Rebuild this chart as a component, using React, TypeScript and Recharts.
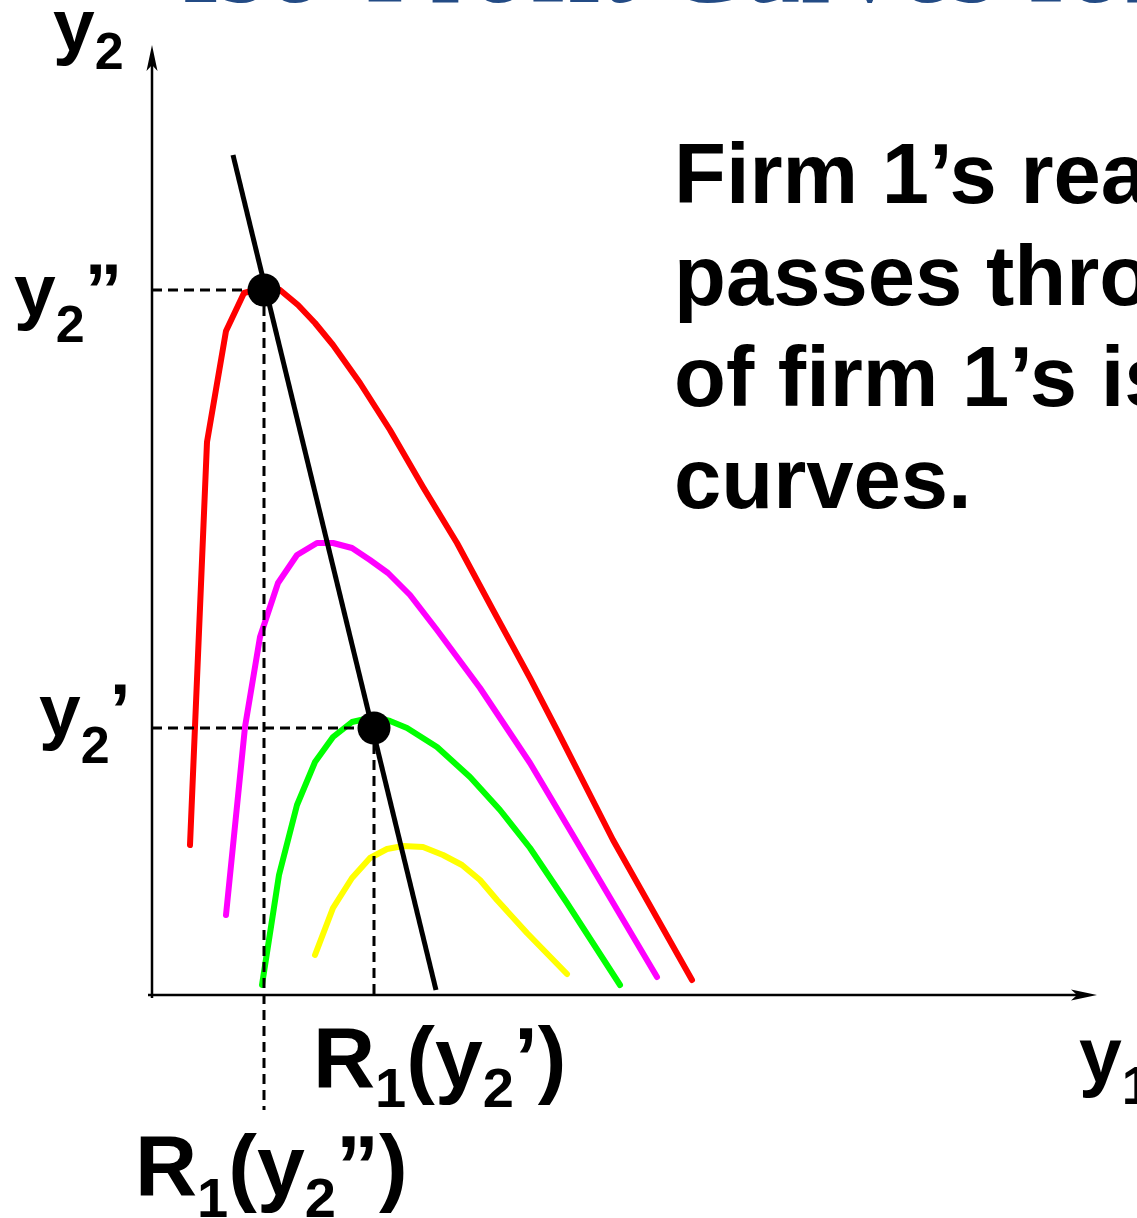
import React from 'react';
import { ComposedChart, Line, XAxis, YAxis, ReferenceLine, ReferenceDot } from 'recharts';

// iso-profit curves of firm 1, highest profit level first (x = y1, y = y2)
const redCurve = [
  { x: 0.38, y: 1.5 }, { x: 0.55, y: 5.53 }, { x: 0.74, y: 6.64 }, { x: 0.92, y: 7.02 },
  { x: 1.13, y: 7.08 }, { x: 1.28, y: 7.05 }, { x: 1.46, y: 6.9 }, { x: 1.63, y: 6.72 },
  { x: 1.81, y: 6.5 }, { x: 2.08, y: 6.12 }, { x: 2.38, y: 5.65 }, { x: 2.71, y: 5.08 },
  { x: 3.05, y: 4.52 }, { x: 3.41, y: 3.85 }, { x: 3.78, y: 3.17 }, { x: 4.05, y: 2.65 },
  { x: 4.61, y: 1.55 }, { x: 5.4, y: 0.15 },
];
const magentaCurve = [
  { x: 0.74, y: 0.8 }, { x: 0.93, y: 2.68 }, { x: 1.08, y: 3.58 }, { x: 1.26, y: 4.12 },
  { x: 1.45, y: 4.4 }, { x: 1.65, y: 4.52 }, { x: 1.81, y: 4.52 }, { x: 2.0, y: 4.47 },
  { x: 2.18, y: 4.35 }, { x: 2.36, y: 4.22 }, { x: 2.58, y: 4.0 }, { x: 2.85, y: 3.65 },
  { x: 3.28, y: 3.07 }, { x: 3.78, y: 2.32 }, { x: 4.28, y: 1.48 }, { x: 5.05, y: 0.18 },
];
const greenCurve = [
  { x: 1.1, y: 0.1 }, { x: 1.27, y: 1.2 }, { x: 1.45, y: 1.9 }, { x: 1.63, y: 2.33 },
  { x: 1.81, y: 2.58 }, { x: 2.0, y: 2.73 }, { x: 2.22, y: 2.78 }, { x: 2.38, y: 2.74 },
  { x: 2.55, y: 2.67 }, { x: 2.85, y: 2.48 }, { x: 3.18, y: 2.18 }, { x: 3.48, y: 1.85 },
  { x: 3.78, y: 1.47 }, { x: 4.15, y: 0.92 }, { x: 4.68, y: 0.1 },
];
const yellowCurve = [
  { x: 1.63, y: 0.4 }, { x: 1.81, y: 0.87 }, { x: 2.0, y: 1.17 }, { x: 2.18, y: 1.37 },
  { x: 2.35, y: 1.46 }, { x: 2.51, y: 1.49 }, { x: 2.71, y: 1.48 }, { x: 2.91, y: 1.4 },
  { x: 3.1, y: 1.3 }, { x: 3.28, y: 1.15 }, { x: 3.45, y: 0.95 }, { x: 3.75, y: 0.62 },
  { x: 4.15, y: 0.21 },
];
// firm 1's reaction curve R1(y2)
const reactionLine = [{ x: 0.81, y: 8.4 }, { x: 2.84, y: 0.05 }];

// the two levels of y2 and the matching best responses
const y2Levels = [7.05, 2.67];
const r1Values = [1.12, 2.22];
const dashFloor = [-1.15, 0];

const X_MAX = 9.45;
const Y_MAX = 9.5;

const W = 1137;
const H = 1218;
const FONT = '"Liberation Sans", Arial, sans-serif';

const curves = [
  { key: 'red', data: redCurve, color: '#ff0000' },
  { key: 'magenta', data: magentaCurve, color: '#ff00ff' },
  { key: 'green', data: greenCurve, color: '#00ff00' },
  { key: 'yellow', data: yellowCurve, color: '#ffff00' },
];

const textLines = ['Firm 1’s reaction curve', 'passes through the “tops”', 'of firm 1’s iso-profit', 'curves.'];

const arrowUp = (p: any) => {
  const { cx, cy } = p;
  return <path d={`M${cx},${cy} L${cx - 5.5},${cy + 26} L${cx},${cy + 20} L${cx + 5.5},${cy + 26} Z`} fill="#000" />;
};
const arrowRight = (p: any) => {
  const { cx, cy } = p;
  return <path d={`M${cx},${cy} L${cx - 26},${cy - 5.5} L${cx - 20},${cy} L${cx - 26},${cy + 5.5} Z`} fill="#000" />;
};

function Labels() {
  const bold = { fontFamily: FONT, fontWeight: 700 as const, fill: '#000' };
  return (
    <svg width={W} height={H} style={{ position: 'absolute', left: 0, top: 0, pointerEvents: 'none' }}>
      <text x={181} y={2} fontFamily='"Liberation Serif", "Times New Roman", serif' fontSize={118} fill="#234b85">
        Iso-Profit Curves for Firm 1
      </text>
      <text x={53} y={51} fontSize={75} {...bold}>
        y<tspan dy={18} fontSize={52}>2</tspan>
      </text>
      <text x={14} y={316} fontSize={75} {...bold}>
        y<tspan dy={26} fontSize={52}>2</tspan><tspan dy={-26} fontSize={75}>”</tspan>
      </text>
      <text x={39} y={736} fontSize={75} {...bold}>
        y<tspan dy={27} fontSize={52}>2</tspan><tspan dy={-27} fontSize={75}>’</tspan>
      </text>
      <text x={313} y={1087} fontSize={86} {...bold}>
        R<tspan dy={20} fontSize={56}>1</tspan><tspan dy={-20}>(y</tspan>
        <tspan dy={20} fontSize={56}>2</tspan><tspan dy={-20}>’)</tspan>
      </text>
      <text x={135} y={1195} fontSize={86} {...bold}>
        R<tspan dy={22} fontSize={56}>1</tspan><tspan dy={-22}>(y</tspan>
        <tspan dy={22} fontSize={56}>2</tspan><tspan dy={-22}>”)</tspan>
      </text>
      <text x={1079} y={1082} fontSize={77} {...bold}>
        y<tspan dy={22} fontSize={54}>1</tspan>
      </text>
      {textLines.map((t, i) => (
        <text key={i} x={674} y={203 + i * 101.7} fontSize={85} {...bold}>
          {t}
        </text>
      ))}
    </svg>
  );
}

export default function App() {
  return (
    <div style={{ position: 'absolute', left: 0, top: 0, width: W, height: H, overflow: 'hidden', background: '#fff' }}>
      <ComposedChart width={W} height={H} margin={{ top: 0, right: 0, bottom: 0, left: 0 }}>
        <XAxis type="number" dataKey="x" domain={[-1.52, 9.85]} allowDataOverflow hide />
        <YAxis type="number" dataKey="y" domain={[-2.23, 9.95]} allowDataOverflow hide />

        {/* axes */}
        <ReferenceLine segment={[{ x: 0, y: -0.03 }, { x: 0, y: Y_MAX - 0.1 }]} stroke="#000" strokeWidth={2.5} ifOverflow="visible" />
        <ReferenceLine segment={[{ x: -0.04, y: 0 }, { x: X_MAX - 0.1, y: 0 }]} stroke="#000" strokeWidth={2.5} ifOverflow="visible" />
        <ReferenceDot x={0} y={Y_MAX} shape={arrowUp} ifOverflow="visible" />
        <ReferenceDot x={X_MAX} y={0} shape={arrowRight} ifOverflow="visible" />

        {curves.map((c) => (
          <Line
            key={c.key}
            data={c.data}
            dataKey="y"
            type="linear"
            stroke={c.color}
            strokeWidth={6}
            strokeLinecap="round"
            strokeLinejoin="round"
            dot={false}
            activeDot={false}
            isAnimationActive={false}
          />
        ))}

        {/* dashed guides from the equilibrium points to the axes */}
        {y2Levels.map((lvl, i) => (
          <Line
            key={`h${i}`}
            data={[{ x: 0, y: lvl }, { x: r1Values[i], y: lvl }]}
            dataKey="y"
            type="linear"
            stroke="#000"
            strokeWidth={3}
            strokeDasharray="10 6"
            dot={false}
            activeDot={false}
            isAnimationActive={false}
          />
        ))}
        {y2Levels.map((lvl, i) => (
          <Line
            key={`v${i}`}
            data={[{ x: r1Values[i], y: lvl }, { x: r1Values[i], y: dashFloor[i] }]}
            dataKey="y"
            type="linear"
            stroke="#000"
            strokeWidth={3}
            strokeDasharray="10 6"
            dot={false}
            activeDot={false}
            isAnimationActive={false}
          />
        ))}

        <Line
          data={reactionLine}
          dataKey="y"
          type="linear"
          stroke="#000"
          strokeWidth={5}
          dot={false}
          activeDot={false}
          isAnimationActive={false}
        />

        {y2Levels.map((lvl, i) => (
          <ReferenceDot key={`d${i}`} x={r1Values[i]} y={lvl} r={16.5} fill="#000" stroke="none" ifOverflow="visible" />
        ))}
      </ComposedChart>
      <Labels />
    </div>
  );
}
